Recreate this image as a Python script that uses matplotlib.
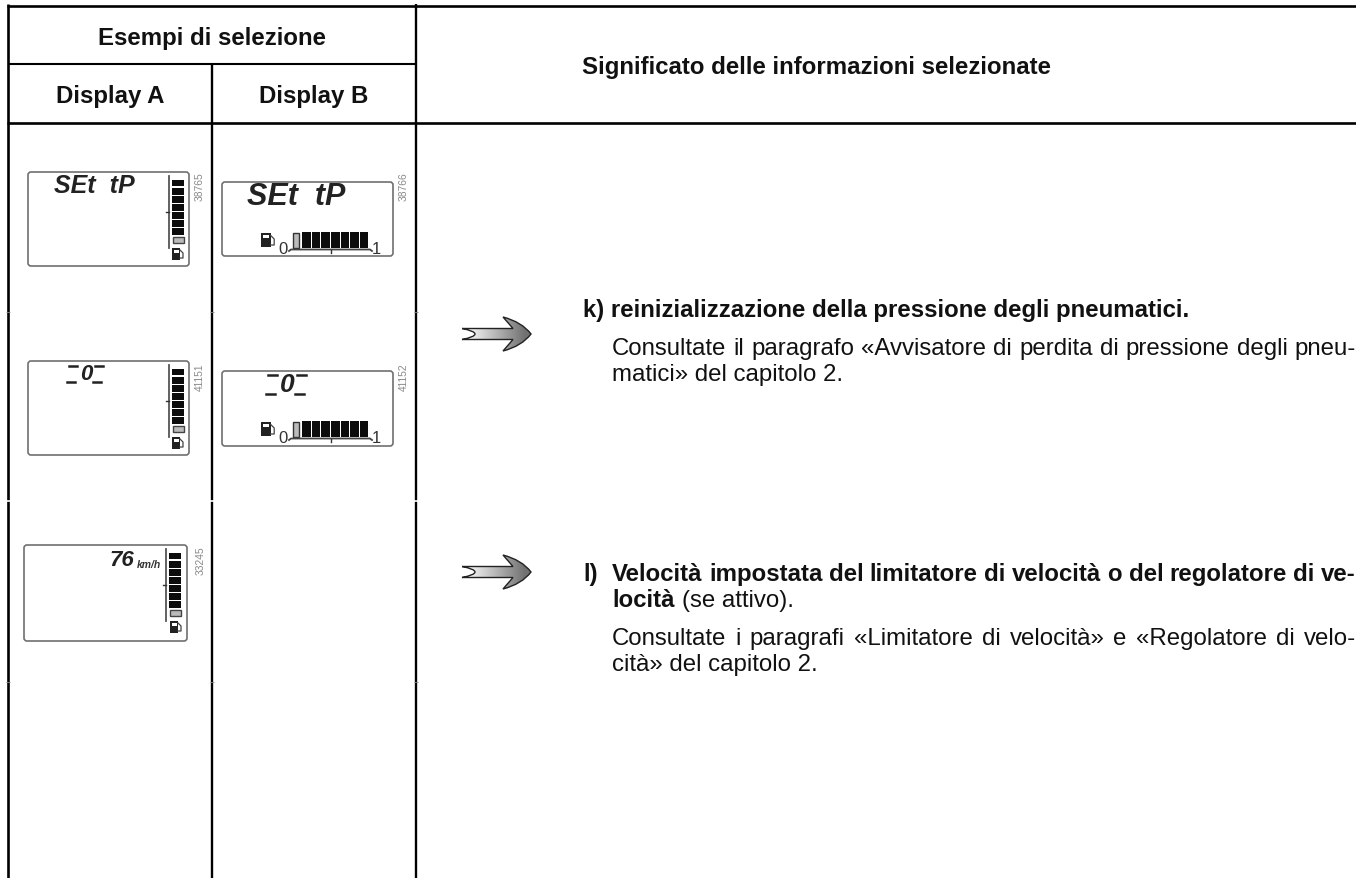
import matplotlib
matplotlib.use("Agg")
import matplotlib.pyplot as plt
from matplotlib.patches import FancyBboxPatch, Rectangle, PathPatch
from matplotlib.path import Path
import numpy as np

plt.rcParams['font.family'] = ['Liberation Sans', 'DejaVu Sans']

INK = "#111111"
SEG = "#222222"

header_top = "Esempi di selezione"
header_cols = ["Display A", "Display B"]
header_right = "Significato delle informazioni selezionate"
serials_a = ["38765", "41151", "33245"]
serials_b = ["38766", "41152"]
set_label = "SEt  tP"
speed_label = "76"
speed_unit = "km/h"
gauge_segments = 8

fig = plt.figure(figsize=(13.56, 8.79), dpi=100)
ax = fig.add_axes([0, 0, 1, 1])
ax.set_xlim(0, 1356)
ax.set_ylim(879, 0)
ax.axis("off")


def display_box(x0, y0, x1, y1):
    ax.add_patch(FancyBboxPatch((x0 + 3, y0 + 3), x1 - x0 - 6, y1 - y0 - 6,
                                boxstyle="round,pad=3,rounding_size=3",
                                fc="white", ec="#707070", lw=1.2))


def pump(x, y, s=1.0):
    ax.add_patch(Rectangle((x, y), 8 * s, 12 * s, fc="#222222", ec="none"))
    ax.add_patch(Rectangle((x + 1.5 * s, y + 1.5 * s), 5 * s, 3 * s, fc="white", ec="none"))
    ax.plot([x + 8 * s, x + 11 * s, x + 11 * s, x + 8 * s],
            [y + 2 * s, y + 5 * s, y + 10 * s, y + 10 * s], color="#444444", lw=0.9)


def gauge_vertical(x, y0, y1):
    step = (y1 - y0) / gauge_segments
    ax.plot([x - 3, x - 3], [y0 - 3, y1 + 4], color="#555555", lw=1.3)
    ax.plot([x - 6, x - 3], [(y0 + y1) / 2] * 2, color="#333333", lw=1)
    for i in range(gauge_segments):
        top = y0 + i * step
        if i == gauge_segments - 1:
            ax.add_patch(Rectangle((x + 0.5, top + 1), 11, step - 2, fc="#bbbbbb", ec="#444444", lw=1))
        else:
            ax.add_patch(Rectangle((x, top + 0.7), 12, step - 1.4, fc="#0c0c0c", ec="none"))


def gauge_horizontal(x0, x1, y):
    step = (x1 - x0) / gauge_segments
    for i in range(gauge_segments):
        left = x0 + i * step
        if i == 0:
            ax.add_patch(Rectangle((left + 1, y + 0.5), step - 4, 15, fc="#bbbbbb", ec="#333333", lw=1))
        else:
            ax.add_patch(Rectangle((left + 0.6, y), step - 1.2, 16, fc="#0c0c0c", ec="none"))
    ax.plot([x0 - 3, x0 - 1, x1 + 1, x1 + 3], [y + 19, y + 17.5, y + 17.5, y + 19], color="#444444", lw=1.3)
    ax.plot([(x0 + x1) / 2] * 2, [y + 17.5, y + 21], color="#333333", lw=1)
    ax.text(x0 - 9, y + 16.5, "0", fontsize=12, color="#333333", ha="center", va="center")
    ax.text(x1 + 7, y + 16.5, "1", fontsize=12, color="#333333", ha="center", va="center")


def serial(x, y, label):
    ax.text(x, y, label, fontsize=7.4, color="#8a8a8a", rotation=90, ha="center", va="center")


def zero_readout(cx, y0, y1, half_gap, dash, size):
    # centre digit with the small dashes around it
    ax.text(cx, (y0 + y1) / 2, "0", fontsize=size, fontstyle="italic", fontweight="bold",
            ha="center", va="center", color=SEG)
    lw = 1.8
    ax.plot([cx - half_gap - dash, cx - half_gap], [y0, y0], color=SEG, lw=lw)
    ax.plot([cx + half_gap, cx + half_gap + dash], [y0, y0], color=SEG, lw=lw)
    ax.plot([cx - half_gap - dash - 2, cx - half_gap - 2], [y1, y1], color=SEG, lw=lw)
    ax.plot([cx + half_gap - 2, cx + half_gap + dash - 2], [y1, y1], color=SEG, lw=lw)


def arrow(x, y):
    # x, y = left end of the shaft, vertical centre
    verts = [(x, y - 5.5), (x + 51, y - 5.5), (x + 41, y - 17),
             (x + 60, y - 12), (x + 69, y), (x + 60, y + 12), (x + 41, y + 17),
             (x + 51, y + 5.5), (x, y + 5.5),
             (x + 13, y + 3), (x + 13, y), (x + 13, y - 3), (x, y - 5.5)]
    codes = [Path.MOVETO, Path.LINETO, Path.LINETO,
             Path.CURVE3, Path.CURVE3, Path.CURVE3, Path.CURVE3,
             Path.LINETO, Path.LINETO,
             Path.CURVE3, Path.CURVE3, Path.CURVE3, Path.CURVE3]
    path = Path(verts, codes)
    ax.add_patch(PathPatch(path, fc="none", ec="#222222", lw=1.0, zorder=4))
    grad = np.clip(np.linspace(1.05, -0.1, 256), 0, 1).reshape(1, -1)
    im = ax.imshow(grad, extent=(x, x + 69, y + 17, y - 17), cmap="gray", vmin=-0.8, vmax=1.0,
                   aspect="auto", zorder=3)
    im.set_clip_path(PathPatch(path, transform=ax.transData))
    ax.set_xlim(0, 1356)
    ax.set_ylim(879, 0)


def justified(x0, x1, y, line, **kw):
    # the manual sets its text justified, so spread the words up to the right edge
    words = line.split(" ")
    rend = fig.canvas.get_renderer()
    items = [ax.text(x0, y, w, ha="left", va="baseline", **kw) for w in words]
    widths = [t.get_window_extent(rend).width for t in items]
    gap = (x1 - x0 - sum(widths)) / (len(words) - 1)
    pos = x0
    for t, w in zip(items, widths):
        t.set_x(pos)
        pos += w + gap


# table rules
rule = dict(color="black", solid_capstyle="butt")
ax.plot([8, 8], [5, 879], lw=1.9, **rule)
ax.plot([212, 212], [65, 879], lw=1.7, **rule)
ax.plot([416, 416], [5, 879], lw=1.7, **rule)
ax.plot([7, 1356], [6.5, 6.5], lw=1.9, **rule)
ax.plot([8, 416], [65, 65], lw=1.5, **rule)
ax.plot([7, 1356], [123.5, 123.5], lw=1.9, **rule)

# small joins in the vertical rules
for xr in [8, 212, 416]:
    ax.plot([xr - 2, xr + 2], [502, 502], color="white", lw=1.2, solid_capstyle="butt")
    ax.plot([xr - 2, xr + 2], [313, 313], color="#888888", lw=0.6, solid_capstyle="butt")
    ax.plot([xr - 2, xr + 2], [683, 683], color="#888888", lw=0.6, solid_capstyle="butt")

# headers
head = dict(fontsize=17.25, fontweight="bold", va="baseline", color=INK)
ax.text(211.5, 45, header_top, ha="center", **head)
ax.text(110.5, 102.5, header_cols[0], ha="center", **head)
ax.text(314, 102.5, header_cols[1], ha="center", **head)
ax.text(582, 74, header_right, ha="left", **head)

readout = dict(fontstyle="italic", fontweight="bold", ha="center", va="center", color=SEG)

# column A displays
display_box(28, 173, 189, 267)
ax.text(94, 186, set_label, fontsize=18, **readout)
gauge_vertical(172, 180, 245)
pump(172, 249)
serial(200, 187, serials_a[0])

display_box(28, 362, 189, 456)
zero_readout(86, 367, 383, 9, 8, 16)
gauge_vertical(172, 369, 434)
pump(172, 438)
serial(200, 377, serials_a[1])

display_box(24, 546, 187, 642)
ax.text(122, 561, speed_label, fontsize=16, **readout)
ax.text(148.5, 565, speed_unit, fontsize=7.5, fontstyle="italic", fontweight="bold",
        ha="center", va="center", color="#333333")
gauge_vertical(169, 553, 618)
pump(170, 622)
serial(201, 561, serials_a[2])

# column B displays
display_box(222, 183, 393, 257)
ax.text(296.5, 197, set_label, fontsize=22, **readout)
gauge_horizontal(292, 369, 233)
pump(261, 234, 1.2)
serial(404, 187, serials_b[0])

display_box(222, 372, 393, 447)
zero_readout(287, 376, 395, 10, 9, 19)
gauge_horizontal(292, 369, 422)
pump(261, 423, 1.2)
serial(404, 377, serials_b[1])

# arrows
arrow(462, 335)
arrow(462, 573)

# right hand text
body = dict(fontsize=17.25, color=INK)
ax.text(583, 317, "k) reinizializzazione della pressione degli pneumatici.", fontweight="bold", ha="left", va="baseline", **body)
justified(612, 1356, 355, "Consultate il paragrafo «Avvisatore di perdita di pressione degli pneu-", **body)
ax.text(612, 381, "matici» del capitolo 2.", ha="left", va="baseline", **body)
ax.text(583, 581, "l)", fontweight="bold", ha="left", va="baseline", **body)
justified(612, 1356, 581, "Velocità impostata del limitatore di velocità o del regolatore di ve-", fontweight="bold", **body)
ax.text(612, 607, "locità", fontweight="bold", ha="left", va="baseline", **body)
ax.text(682, 607, "(se attivo).", ha="left", va="baseline", **body)
justified(612, 1356, 645, "Consultate i paragrafi «Limitatore di velocità» e «Regolatore di velo-", **body)
ax.text(612, 671, "cità» del capitolo 2.", ha="left", va="baseline", **body)

fig.savefig("out.png", dpi=100)
